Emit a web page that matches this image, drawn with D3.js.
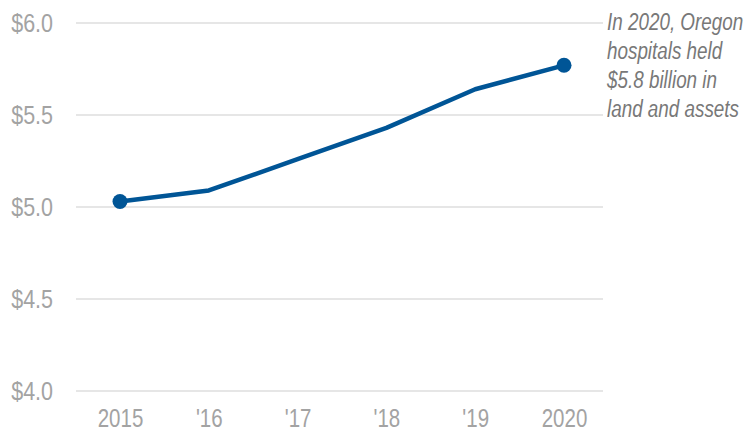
<!DOCTYPE html>
<html>
<head>
<meta charset="utf-8">
<script src="https://cdn.jsdelivr.net/npm/d3@7"></script>
<style>
  html, body { margin: 0; padding: 0; background: #fff; }
  svg { display: block; }
</style>
</head>
<body>
<div id="chart"></div>
<script>
(function () {
  'use strict';

  // Data
  const YEARS  = ['2015', "'16", "'17", "'18", "'19", '2020'];
  const VALUES = [5.03, 5.09, 5.26, 5.43, 5.64, 5.77];
  const Y_TICKS = [4.0, 4.5, 5.0, 5.5, 6.0];
  const NOTE = ['In 2020, Oregon', 'hospitals held', '$5.8 billion in', 'land and assets'];

  const W = 749, H = 434;
  const FONT = "'Liberation Sans', Arial, sans-serif";
  const NARROW = 0.82; // fake the condensed face with a horizontal squeeze

  const svg = d3.select('#chart').append('svg')
    .attr('width', W)
    .attr('height', H);

  const x = d3.scalePoint().domain(YEARS).range([120, 564]);
  const y = d3.scaleLinear().domain([4, 6]).range([391, 23]);

  // Gridlines
  svg.append('g')
    .selectAll('line')
    .data(Y_TICKS)
    .join('line')
      .attr('x1', 76)
      .attr('x2', 603)
      .attr('y1', d => y(d))
      .attr('y2', d => y(d))
      .attr('stroke', '#e6e6e6')
      .attr('stroke-width', 2);

  // Y labels
  svg.append('g')
    .selectAll('text')
    .data(Y_TICKS)
    .join('text')
      .attr('transform', d => `translate(53,${y(d)}) scale(0.86,1)`)
      .attr('dy', '0.36em')
      .attr('text-anchor', 'end')
      .attr('fill', '#a3a3a3')
      .attr('font-family', FONT)
      .attr('font-size', '25px')
      .text(d => '$' + d.toFixed(1));

  // X labels
  const xAxis = svg.append('g')
    .attr('transform', 'translate(0,409)')
    .call(d3.axisBottom(x).tickSize(0).tickPadding(0));
  xAxis.select('.domain').remove();
  xAxis.selectAll('text')
    .attr('transform', `scale(${NARROW},1)`)
    .attr('dy', '0.71em')
    .attr('fill', '#a3a3a3')
    .attr('font-family', FONT)
    .attr('font-size', '25px');

  // Line
  const line = d3.line()
    .x((d, i) => x(YEARS[i]))
    .y(d => y(d));

  svg.append('path')
    .datum(VALUES)
    .attr('d', line)
    .attr('fill', 'none')
    .attr('stroke', '#005596')
    .attr('stroke-width', 4.5)
    .attr('stroke-linejoin', 'round');

  // End points
  const ends = [0, VALUES.length - 1];
  svg.append('g')
    .selectAll('circle')
    .data(ends)
    .join('circle')
      .attr('cx', i => x(YEARS[i]))
      .attr('cy', i => y(VALUES[i]))
      .attr('r', 7.5)
      .attr('fill', '#005596');

  // Annotation
  svg.append('g')
    .attr('transform', `translate(607,0) scale(${NARROW},1)`)
    .append('text')
      .attr('font-family', FONT)
      .attr('font-size', '23px')
      .attr('font-style', 'italic')
      .attr('fill', '#787878')
      .selectAll('tspan')
      .data(NOTE)
      .join('tspan')
        .attr('x', 0)
        .attr('y', (d, i) => 30 + i * 29)
        .text(d => d);
})();
</script>
</body>
</html>
